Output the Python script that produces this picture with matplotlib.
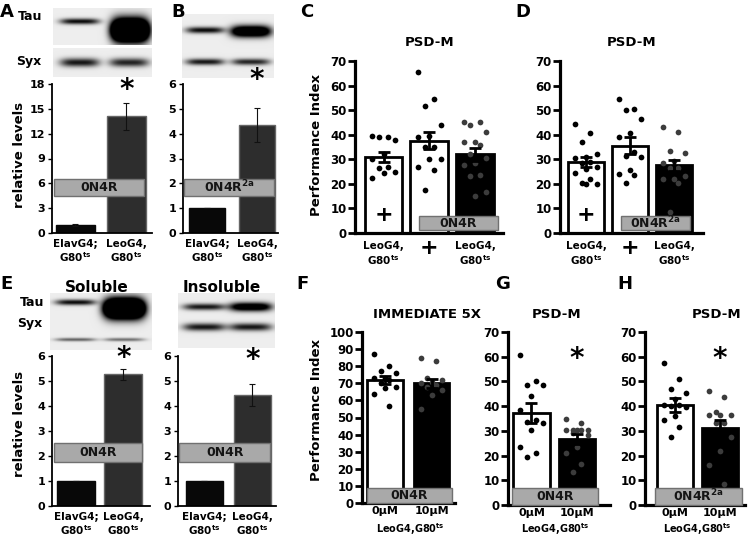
import numpy as np
import matplotlib.pyplot as plt
from matplotlib.patches import Rectangle

plt.rcParams['font.family'] = 'DejaVu Sans'
plt.rcParams['font.weight'] = 'bold'
plt.rcParams['mathtext.default'] = 'bf'

# ---- data ----
ts = r'G80$^{ts}$'
wb_groups = ['ElavG4;\n' + ts, 'LeoG4,\n' + ts]
a_vals = [1.0, 14.1]
a_err = [0.1, 1.6]
b_vals = [1.0, 4.35]
b_err = [0.0, 0.7]
sol_vals = [1.0, 5.28]
sol_err = [0.0, 0.22]
ins_vals = [1.0, 4.45]
ins_err = [0.0, 0.45]

c_means = [31.0, 37.5, 32.0]
c_sem = [2.0, 3.5, 2.5]
c_pts = [[39, 39, 39.5, 38, 32, 30, 26.5, 25, 24.5, 27, 22.5],
         [65.5, 54.5, 51.5, 44, 39.5, 39, 35, 35, 30, 30, 27, 25.5, 17.5],
         [45, 44, 45, 41, 37, 37, 36, 32, 30.5, 27.7, 28.5, 23.6, 23, 16.8, 15]]

d_means = [29.0, 35.5, 27.5]
d_sem = [2.0, 3.5, 2.3]
d_pts = [[44.5, 40.5, 37, 32, 31, 30.5, 28.5, 26, 24.5, 22, 20.5, 20, 20, 29, 27],
         [54.5, 50.5, 50, 46.5, 40.5, 39, 33, 31.5, 31, 25.5, 23.5, 24, 20.5],
         [43, 41, 33.5, 32.5, 29.5, 28.5, 26.5, 26.5, 23, 22, 22, 20.5, 8.5]]

dose_labels = ['0\u03bcM', '10\u03bcM']
f_means = [72.0, 70.0]
f_sem = [2.5, 2.5]
f_pts = [[87, 80, 77, 76, 73, 73, 72, 70, 68, 67, 64, 57],
         [85, 83, 73, 72, 71, 70, 69, 68, 66, 63, 55]]

g_means = [37.2, 26.6]
g_sem = [4.0, 2.0]
g_pts = [[60.5, 50, 48.5, 48.5, 44, 38.5, 34.5, 33.5, 33, 30.5, 23.5, 21, 19.5],
         [35, 33, 30.5, 30.5, 30.5, 30.5, 30.5, 29, 28.5, 23.5, 21, 16.5, 13.5]]

h_means = [40.5, 31.0]
h_sem = [2.7, 3.4]
h_pts = [[57.5, 51, 47, 45.5, 43, 40.5, 40.5, 40, 39.5, 36, 34.5, 31.5, 27.5],
         [46, 43.5, 37.5, 36.5, 36.5, 36.5, 33, 33, 27.5, 22, 16, 8.5]]

W, H = 749, 538
fig = plt.figure(figsize=(7.49, 5.38), dpi=100)


def px_ax(x0, y0, x1, y1):
    return fig.add_axes([x0 / W, 1 - y1 / H, (x1 - x0) / W, (y1 - y0) / H])


def ftext(x, y, s, **kw):
    kw.setdefault('ha', 'center')
    kw.setdefault('va', 'center')
    fig.text(x / W, 1 - y / H, s, **kw)


def blot(x0, y0, x1, y1, bands, bg=0.93):
    ax = px_ax(x0, y0, x1, y1)
    h, w = int(y1 - y0) * 2, int(x1 - x0) * 2
    yy, xx = np.mgrid[0:1:h * 1j, 0:1:w * 1j]
    img = np.full((h, w), bg)
    for cx, cy, rx, ry, k in bands:
        img -= k * np.exp(-((xx - cx) / rx) ** 4 - ((yy - cy) / ry) ** 2)
    ax.imshow(np.clip(img, 0, 1), cmap='gray', vmin=0, vmax=1, aspect='auto',
              interpolation='bilinear')
    ax.axis('off')
    return ax


def gray_box(ax, x0, x1, y0, y1, label, fs=9):
    ax.add_patch(Rectangle((x0, y0), x1 - x0, y1 - y0, fc='#a9a9a9', ec='#707070',
                           lw=1, zorder=6, clip_on=False))
    ax.text((x0 + x1) / 2, (y0 + y1) / 2, label, ha='center', va='center',
            fontsize=fs, zorder=7, color='#151515')


def wb_panel(rect, vals, errs, ymax, step, xlim, width, box, label, star_y):
    ax = px_ax(*rect)
    x = np.arange(len(vals))
    ax.bar(x, vals, width, color=['#080808', '#2d2d2d'],
           edgecolor=['#080808', '#666666'], linewidth=1, zorder=2)
    ax.errorbar(x, vals, yerr=errs, fmt='none', ecolor='#111111', elinewidth=0.8,
                capsize=2.5, capthick=0.8, zorder=3)
    ax.set_xlim(xlim)
    ax.set_ylim(0, ymax)
    ax.set_yticks(np.arange(0, ymax + 0.1, step))
    ax.set_xticks(x, wb_groups, fontsize=7.5, linespacing=1.15)
    ax.tick_params(axis='x', length=0, pad=4)
    ax.tick_params(axis='y', length=3, width=1, labelsize=8, pad=2)
    for s in ['top', 'right']:
        ax.spines[s].set_visible(False)
    for s in ['left', 'bottom']:
        ax.spines[s].set_linewidth(1.3)
    gray_box(ax, box[0], box[1], box[2], box[3], label)
    ax.text(1, star_y, '*', fontsize=20, ha='center', va='center', clip_on=False)
    return ax


def beh_panel(rect, means, sems, pts, fills, ymax, step, xlim, width, box, label):
    ax = px_ax(*rect)
    for i in range(len(means)):
        black = fills[i] == 'k'
        ax.bar(i, means[i], width, color='black' if black else 'white',
               edgecolor='black', linewidth=2, zorder=2)
        ax.errorbar(i, means[i], yerr=sems[i], fmt='none', ecolor='black',
                    elinewidth=2, capsize=4, capthick=2, zorder=4)
        v = np.sort(pts[i])[::-1]
        offs = np.resize([-0.3, 0.12, -0.12, 0.3, 0.0], len(v)) * width
        ax.scatter(i + offs, v, s=17, color='#3c3c3c' if black else 'black',
                   lw=0, zorder=3, clip_on=False)
    ax.set_xlim(xlim)
    ax.set_ylim(0, ymax)
    ax.set_yticks(np.arange(0, ymax + 0.1, step))
    ax.tick_params(axis='y', length=5, width=2, labelsize=8.5, pad=1)
    ax.tick_params(axis='x', length=0, pad=6)
    for s in ['top', 'right']:
        ax.spines[s].set_visible(False)
    for s in ['left', 'bottom']:
        ax.spines[s].set_linewidth(2.3)
    gray_box(ax, box[0], box[1], box[2], box[3], label)
    return ax


# ---- A ----
blot(53, 8, 152, 45, [(0.27, 0.36, 0.2, 0.08, 0.9), (0.78, 0.6, 0.19, 0.3, 3.0)])
blot(53, 48, 152, 77, [(0.27, 0.5, 0.2, 0.15, 0.85), (0.77, 0.5, 0.2, 0.15, 0.8)])
wb_panel((52, 84, 152, 233), a_vals, a_err, 18, 3, (-0.46, 1.5), 0.78,
         (-0.42, 1.35, 4.47, 6.5), '0N4R', 17.3)
ftext(7, 12, 'A', fontsize=13)
ftext(30, 17, 'Tau', fontsize=9)
ftext(29, 62, 'Syx', fontsize=9)
ftext(20, 155, 'relative levels', fontsize=9.5, rotation=90)

# ---- B ----
blot(182, 14, 274, 78, [(0.25, 0.25, 0.21, 0.05, 0.9), (0.75, 0.27, 0.22, 0.09, 1.6),
                        (0.25, 0.75, 0.21, 0.05, 0.85), (0.75, 0.75, 0.21, 0.05, 0.8)])
wb_panel((183, 84, 278, 233), b_vals, b_err, 6, 1, (-0.48, 1.42), 0.72,
         (-0.46, 1.34, 1.49, 2.18), r'0N4R$^{2a}$', 6.15)
ftext(178, 12, 'B', fontsize=13)

# ---- C ----
ax = beh_panel((355, 61, 503, 233), c_means, c_sem, c_pts, 'wwk', 70, 10,
               (-0.623, 2.612), 0.83, (0.776, 2.503, 1.2, 6.9), '0N4R')
ax.set_xticks([0, 1, 2], ['LeoG4,\n' + ts, '', 'LeoG4,\n' + ts], fontsize=7.5,
              linespacing=1.15)
ax.text(0, 7.3, '+', fontsize=16, ha='center', va='center', zorder=5)
ax.text(1, -6.1, '+', fontsize=16, ha='center', va='center', clip_on=False)
ftext(307, 12, 'C', fontsize=13)
ftext(430, 42, 'PSD-M', fontsize=9.5)
ftext(317, 145, 'Performance Index', fontsize=9.5, rotation=90)

# ---- D ----
ax = beh_panel((560, 61, 703, 233), d_means, d_sem, d_pts, 'wwk', 70, 10,
               (-0.59, 2.66), 0.82, (0.795, 2.36, 1.2, 6.9), r'0N4R$^{2a}$')
ax.set_xticks([0, 1, 2], ['LeoG4,\n' + ts, '', 'LeoG4,\n' + ts], fontsize=7.5,
              linespacing=1.15)
ax.text(0, 7.3, '+', fontsize=16, ha='center', va='center', zorder=5)
ax.text(1, -6.1, '+', fontsize=16, ha='center', va='center', clip_on=False)
ftext(523, 12, 'D', fontsize=13)
ftext(632, 42, 'PSD-M', fontsize=9.5)

# ---- E ----
blot(50, 293, 152, 350, [(0.25, 0.16, 0.2, 0.05, 0.9), (0.73, 0.27, 0.2, 0.17, 3.0),
                         (0.25, 0.82, 0.2, 0.03, 0.55), (0.73, 0.82, 0.2, 0.03, 0.5)])
blot(178, 293, 275, 348, [(0.27, 0.25, 0.22, 0.06, 0.85), (0.75, 0.25, 0.22, 0.08, 1.3),
                          (0.27, 0.62, 0.22, 0.07, 0.85), (0.75, 0.62, 0.22, 0.07, 0.85)])
wb_panel((52, 356, 150, 506), sol_vals, sol_err, 6, 1, (-0.505, 1.558), 0.8,
         (-0.463, 1.4, 1.76, 2.52), '0N4R', 5.9)
wb_panel((178, 356, 276, 506), ins_vals, ins_err, 6, 1, (-0.552, 1.49), 0.77,
         (-0.53, 1.37, 1.76, 2.52), '0N4R', 5.85)
ftext(7, 284, 'E', fontsize=13)
ftext(97, 287, 'Soluble', fontsize=11)
ftext(222, 287, 'Insoluble', fontsize=11)
ftext(32, 302, 'Tau', fontsize=9)
ftext(30, 323, 'Syx', fontsize=9, zorder=0)
ftext(20, 424, 'relative levels', fontsize=9.5, rotation=90)

# ---- F ----
ax = beh_panel((362, 332, 455, 503), f_means, f_sem, f_pts, 'wk', 100, 10,
               (-0.495, 1.505), 0.77, (-0.387, 1.441, 0, 8.8), '0N4R')
ax.set_xticks([0, 1], dose_labels, fontsize=8)
ax.tick_params(axis='x', pad=2)
ftext(303, 284, 'F', fontsize=13)
ftext(427, 315, 'IMMEDIATE 5X', fontsize=9.5)
ftext(317, 410, 'Performance Index', fontsize=9.5, rotation=90)
ftext(410, 529, 'LeoG4,' + ts, fontsize=7)

# ---- G ----
ax = beh_panel((508, 332, 610, 505), g_means, g_sem, g_pts, 'wk', 70, 10,
               (-0.516, 1.725), 0.81, (-0.43, 1.46, 0, 6.9), '0N4R')
ax.set_xticks([0, 1], dose_labels, fontsize=8)
ax.tick_params(axis='x', pad=2)
ax.text(1, 59, '*', fontsize=20, ha='center', va='center')
ftext(503, 284, 'G', fontsize=13)
ftext(557, 315, 'PSD-M', fontsize=9.5)
ftext(555, 529, 'LeoG4,' + ts, fontsize=7)

# ---- H ----
ax = beh_panel((645, 332, 745, 505), h_means, h_sem, h_pts, 'wk', 70, 10,
               (-0.667, 1.556), 0.8, (-0.444, 1.489, 0, 6.9), r'0N4R$^{2a}$')
ax.set_xticks([0, 1], dose_labels, fontsize=8)
ax.tick_params(axis='x', pad=2)
ax.text(1, 59, '*', fontsize=20, ha='center', va='center')
ftext(625, 284, 'H', fontsize=13)
ftext(717, 315, 'PSD-M', fontsize=9.5)
ftext(697, 529, 'LeoG4,' + ts, fontsize=7)

fig.savefig('out.png', dpi=100)
